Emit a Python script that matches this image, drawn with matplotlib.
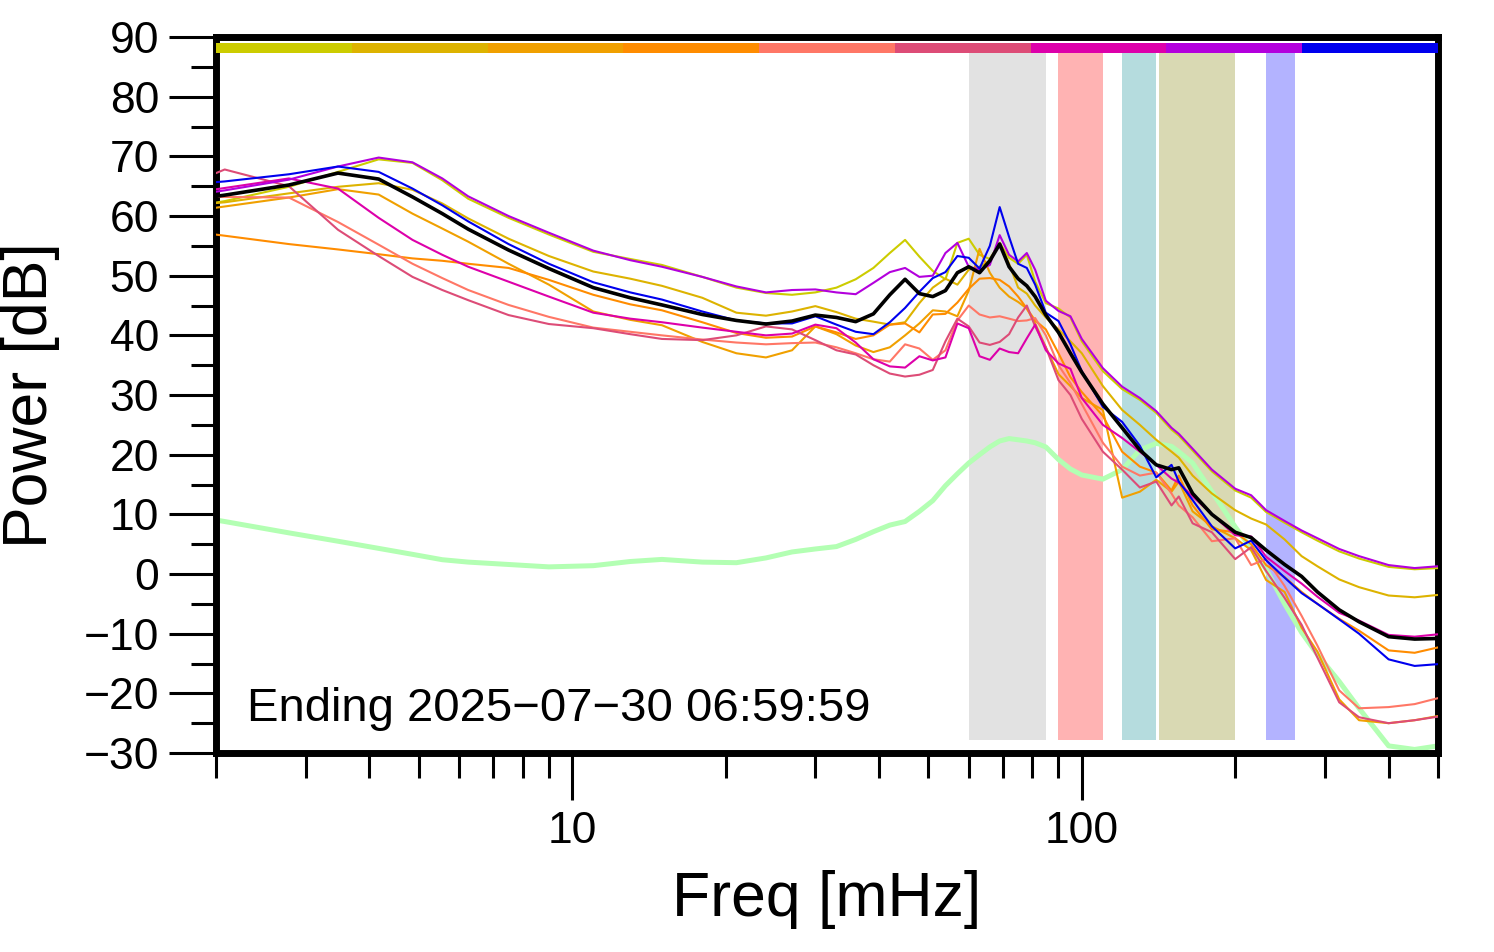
import numpy as np
import matplotlib
matplotlib.use('Agg')
import matplotlib.pyplot as plt
from matplotlib.ticker import MultipleLocator, FixedLocator, NullFormatter

plt.rcParams['font.family'] = ['Liberation Sans', 'DejaVu Sans']

# frequency grid [mHz]
freq = [1.39, 2.08, 2.78, 3.47, 4.17, 4.86, 5.56, 6.25, 7.5, 9,
        11, 13, 15, 18, 21, 24, 27, 30, 33, 36,
        39, 42, 45, 48, 51, 54, 57, 60, 63, 66,
        69, 72, 75, 78, 81, 85, 90, 95, 100, 110,
        120, 130, 140, 150, 155, 165, 180, 200, 215, 230,
        250, 270, 290, 320, 350, 400, 450, 500]

# power spectra [dB]
olive = [60.0, 62.5, 64.9, 67.4, 69.5, 68.9, 66.0, 62.9, 59.7, 56.9,
         54.0, 52.8, 51.8, 49.8, 48.0, 47.1, 46.8, 47.2, 48.0, 49.4,
         51.3, 53.8, 56.0, 53.2, 50.8, 49.4, 55.5, 56.2, 53.5, 52.8,
         55.5, 53.0, 52.0, 53.5, 49.0, 45.4, 44.5, 43.0, 39.0, 34.0,
         31.0, 29.2, 27.0, 24.2, 23.2, 20.7, 17.2, 14.0, 12.8, 10.4,
         8.6, 7.0, 5.6, 3.8, 2.6, 1.2, 0.8, 1.0]
gold = [61.0, 62.3, 63.8, 64.9, 65.5, 64.4, 62.1, 59.6, 56.2, 53.3,
        50.7, 49.5, 48.3, 46.3, 43.8, 43.3, 44.0, 44.9, 43.9, 42.8,
        42.3, 41.8, 42.2, 45.4, 48.0, 49.5, 48.5, 51.0, 51.5, 52.5,
        55.5, 52.0, 48.0, 47.0, 45.0, 43.0, 41.0, 39.0, 37.0, 31.5,
        27.5, 25.0, 22.5, 20.5, 19.5, 16.5, 13.5, 10.7, 9.3, 8.3,
        5.8, 3.0, 1.3, -0.9, -2.2, -3.6, -3.9, -3.5]
orange = [59.5, 61.6, 63.1, 64.5, 63.6, 60.4, 57.9, 55.7, 52.0, 48.5,
          44.0, 42.6, 41.7, 38.9, 37.0, 36.3, 37.5, 41.5, 40.2, 38.3,
          37.2, 38.0, 40.0, 42.0, 44.2, 44.0, 43.2, 47.5, 54.5, 50.5,
          48.0, 46.5, 45.6, 44.5, 42.0, 38.0, 33.5, 31.5, 29.5, 27.5,
          12.8, 13.8, 15.8, 13.8, 15.5, 10.5, 8.0, 6.0, 4.0, -1.0,
          -3.0, -9.0, -13.0, -21.0, -24.5, -25.0, -24.5, -23.8]
darkorange = [58.6, 56.7, 55.3, 54.4, 53.6, 52.9, 52.5, 52.0, 51.3, 49.3,
              46.8, 45.2, 44.2, 42.2, 40.4, 39.6, 39.8, 41.5, 40.5, 39.4,
              40.0, 41.8, 42.0, 40.5, 43.5, 43.6, 45.5, 47.8, 49.5, 49.6,
              49.3, 48.2, 46.5, 44.5, 42.5, 41.0, 37.0, 33.0, 30.5, 26.5,
              20.5, 18.0, 17.0, 14.0, 16.5, 11.5, 7.5, 7.0, 5.0, 1.5,
              -0.5, -3.0, -5.0, -7.5, -9.5, -12.8, -13.2, -12.3]
salmon = [63.3, 63.2, 63.1, 59.0, 55.2, 52.0, 49.6, 47.6, 45.1, 43.1,
          41.3, 40.6, 40.0, 39.3, 38.8, 38.5, 38.7, 38.8, 38.0, 37.0,
          36.0, 35.6, 38.5, 37.8, 35.9, 37.5, 42.5, 45.0, 43.5, 43.0,
          43.2, 42.8, 42.4, 42.5, 42.9, 40.0, 35.0, 32.0, 28.5, 22.0,
          18.0, 16.5, 17.0, 13.5, 11.5, 9.5, 5.5, 6.0, 1.5, 2.5,
          -2.0, -7.0, -12.0, -19.5, -22.5, -22.3, -21.8, -20.8]
pinkred = [61.6, 67.8, 65.0, 57.7, 53.3, 49.8, 47.6, 45.9, 43.4, 41.9,
           41.2, 40.2, 39.4, 39.2, 40.0, 41.5, 41.0, 39.2, 37.5, 36.8,
           35.0, 33.6, 33.1, 33.4, 34.2, 39.0, 42.8, 41.5, 38.8, 38.4,
           38.9, 40.2, 43.0, 45.0, 41.5, 38.0, 32.5, 30.0, 26.0, 20.5,
           17.5, 14.5, 15.5, 11.5, 13.0, 8.5, 7.0, 2.5, 4.5, 0.5,
           -4.0, -8.5, -14.0, -21.5, -24.0, -25.0, -24.5, -23.9]
magenta = [62.5, 64.7, 66.3, 64.6, 59.7, 56.0, 53.5, 51.5, 49.0, 46.5,
           43.8, 42.8, 42.2, 41.3, 40.6, 40.0, 40.3, 41.8, 41.2, 38.8,
           36.0, 34.8, 34.6, 36.5, 35.8, 36.3, 42.0, 41.2, 36.5, 35.9,
           37.8, 37.2, 37.0, 39.5, 41.8, 37.5, 35.3, 34.4, 29.5, 25.0,
           22.8, 20.5, 18.3, 16.0, 15.3, 13.0, 10.0, 6.5, 6.3, 2.9,
           0.5, -1.6, -3.8, -6.5, -7.8, -10.2, -10.5, -10.1]
purple = [62.0, 64.3, 66.1, 68.3, 69.8, 69.0, 66.3, 63.3, 60.0, 57.2,
          54.2, 52.6, 51.5, 49.8, 48.2, 47.2, 47.6, 47.7, 47.2, 46.9,
          48.8, 50.6, 51.3, 49.8, 50.0, 53.8, 55.5, 51.5, 51.0, 51.8,
          56.8, 53.5, 52.4, 53.8, 51.0, 45.8, 44.1, 43.2, 39.4, 34.5,
          31.4, 29.5, 27.3, 24.5, 23.5, 21.0, 17.5, 14.3, 13.2, 10.7,
          8.9, 7.3, 6.0, 4.2, 3.0, 1.5, 1.0, 1.3]
blue = [64.6, 65.8, 67.0, 68.3, 67.4, 64.6, 61.8, 59.1, 55.3, 52.0,
        48.9, 47.2, 46.0, 44.0, 42.5, 42.0, 42.0, 43.2, 41.8, 40.6,
        40.2, 42.2, 44.6, 47.3, 49.6, 50.6, 53.3, 53.0, 51.2, 55.0,
        61.5, 56.5, 52.0, 51.3, 48.5, 43.8, 42.4, 38.5, 34.0, 28.0,
        25.5, 21.5, 16.2, 18.3, 15.5, 12.4, 8.0, 4.3, 5.6, 2.3,
        -0.6, -3.2, -5.0, -7.6, -10.0, -14.3, -15.4, -15.1]
mean_db = [61.4, 63.5, 65.2, 67.2, 66.2, 63.2, 60.4, 57.8, 54.3, 51.2,
           48.0, 46.3, 45.1, 43.5, 42.5, 41.9, 42.4, 43.4, 43.0, 42.3,
           43.6, 46.8, 49.4, 47.0, 46.5, 47.5, 50.5, 51.5, 50.5, 52.5,
           55.3, 51.5, 49.5, 48.3, 46.5, 43.4, 40.5, 37.0, 33.8, 28.5,
           24.5, 20.8, 18.3, 17.5, 17.8, 13.5, 10.0, 7.0, 6.1, 4.0,
           1.6, -0.4, -3.0, -6.0, -8.0, -10.5, -10.9, -10.8]
noise = [11.4, 8.8, 6.9, 5.5, 4.3, 3.3, 2.4, 2.0, 1.6, 1.2,
         1.4, 2.1, 2.45, 2.0, 1.9, 2.7, 3.7, 4.2, 4.6, 5.8,
         7.1, 8.2, 8.8, 10.5, 12.3, 14.8, 16.8, 18.6, 20.0, 21.3,
         22.3, 22.7, 22.5, 22.3, 22.0, 21.3, 19.2, 17.6, 16.6, 15.9,
         17.5, 20.8, 21.9, 21.4, 20.5, 18.6, 13.8, 7.9, 4.3, 0.8,
         -5.0, -9.8, -13.5, -18.0, -22.5, -28.8, -29.4, -28.8]

spectra = [olive, gold, orange, darkorange, salmon, pinkred, magenta, purple, blue]
line_colors = ['#CCCC00', '#DDB300', '#F0A000', '#FF8C00', '#FF7766',
               '#DD4C77', '#DD00AA', '#B300DD', '#0000EE']

# shaded frequency bands [mHz]
band_lo = [60, 90, 120, 142, 230]
band_hi = [85, 110, 140, 200, 262]
band_colors = ['#E2E2E2', '#FFB3B3', '#B5DCDE', '#D9D9B3', '#B3B3FF']

xticks_minor = [2, 3, 4, 5, 6, 7, 8, 9, 20, 30, 40, 50, 60, 70, 80, 90,
                200, 300, 400, 500]

fig = plt.figure(figsize=(14.94, 9.52), dpi=100)
ax = fig.add_axes([0.1446, 0.2090, 0.8179, 0.7521])
ax.set_xscale('log')
ax.set_xlim(2, 500)
ax.set_ylim(-30, 90)

for lo, hi, c in zip(band_lo, band_hi, band_colors):
    ax.axvspan(lo, hi, ymin=0.018, ymax=0.9775, color=c, lw=0, zorder=1)

ax.plot(freq, noise, color='#B3FFB3', lw=3.6, zorder=2)
for vals, c in zip(spectra, line_colors):
    ax.plot(freq, vals, color=c, lw=1.5, zorder=3)
ax.plot(freq, mean_db, color='black', lw=2.6, zorder=4)

# colour key across the top
edges = np.geomspace(2, 500, len(line_colors) + 1)
for i, c in enumerate(line_colors):
    ax.hlines(88.1, edges[i], edges[i + 1], colors=c, lw=7.2, zorder=5)

ax.set_xticks([10, 100], ['10', '100'])
ax.xaxis.set_minor_locator(FixedLocator(xticks_minor))
ax.xaxis.set_minor_formatter(NullFormatter())
ax.yaxis.set_major_locator(MultipleLocator(10))
ax.yaxis.set_minor_locator(MultipleLocator(5))

ax.tick_params(which='both', direction='out', width=2.2, top=False, right=False)
ax.tick_params(which='major', length=34, labelsize=32)
ax.tick_params(which='minor', length=18)
ax.tick_params(axis='x', which='major', pad=8)
ax.tick_params(axis='y', which='major', pad=7)

for s in ax.spines.values():
    s.set_linewidth(5)

ax.set_xlabel('Freq [mHz]', fontsize=45)
ax.xaxis.set_label_coords(0.5, -0.205)
ax.xaxis.label.set_va('center')
ax.set_ylabel('Power [dB]', fontsize=45)
ax.yaxis.set_label_coords(-0.152, 0.5)
ax.yaxis.label.set_va('center')

ax.text(0.0254, 0.061, 'Ending 2025\u221207\u221230 06:59:59', transform=ax.transAxes,
        va='center', ha='left', fontsize=34)

fig.savefig('out.png', dpi=100)
